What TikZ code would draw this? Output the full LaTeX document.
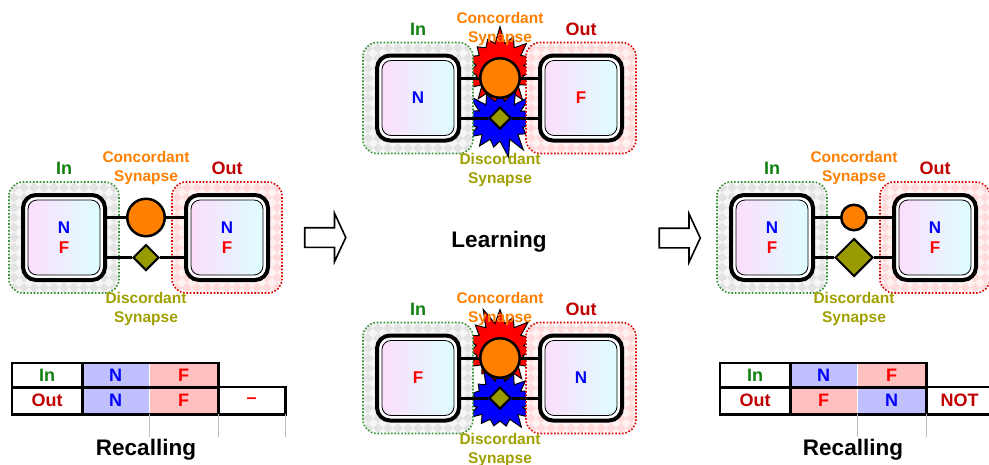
\documentclass[tikz,border=0pt]{standalone}
\usepackage{fontspec}
\setmainfont{Liberation Sans}
\usetikzlibrary{shapes.geometric,shapes.arrows,shapes.symbols}

\definecolor{ingreen}{RGB}{16,128,16}
\definecolor{outred}{RGB}{192,0,0}
\definecolor{nblue}{RGB}{0,0,255}
\definecolor{fred}{RGB}{255,0,0}
\definecolor{conorange}{RGB}{255,128,0}
\definecolor{disolive}{RGB}{160,160,0}
\definecolor{diamondfill}{RGB}{153,153,0}
\definecolor{ncell}{RGB}{192,192,255}
\definecolor{fcell}{RGB}{255,192,192}
\definecolor{somaleft}{RGB}{252,222,252}
\definecolor{somaright}{RGB}{222,254,254}

\tikzset{
  neuron/.style={draw, line width=4pt, rounded corners=13pt, fill=white,
    minimum width=82pt, minimum height=85pt, inner sep=0pt},
  soma/.style={draw, line width=0.8pt, rounded corners=9pt, minimum width=72pt,
    minimum height=75pt, inner sep=0pt, left color=somaleft, right color=somaright,
    align=center, font=\fontsize{17}{19.5}\selectfont\bfseries},
  axon/.style={line width=3pt},
  concord/.style={circle, draw, line width=2.5pt, fill=conorange, inner sep=0pt,
    minimum size=#1pt},
  discord/.style={diamond, aspect=1, draw, line width=2pt, fill=diamondfill,
    inner sep=0pt, minimum size=#1pt},
  tag/.style={anchor=base, inner sep=0pt, font=\fontsize{18}{18}\selectfont\bfseries},
  syn/.style={align=center, inner sep=0pt, font=\fontsize{15.5}{19}\selectfont\bfseries},
  flash/.style={starburst, draw, line width=1pt, starburst points=15,
    starburst point height=18pt, inner sep=0pt},
  blockarrow/.style={single arrow, draw, line width=1.6pt, fill=white,
    inner sep=9pt, minimum height=41pt, single arrow head extend=14.5pt,
    single arrow tip angle=130},
  tcell/.style={anchor=north west, minimum width=#1pt, inner sep=0pt,
    font=\fontsize{18}{18}\selectfont\bfseries},
  frame/.style={line width=2.5pt},
  tick/.style={gray!50, line width=0.8pt},
  title/.style={anchor=base, inner sep=0pt, font=\fontsize{22.5}{22.5}\selectfont\bfseries}
}

\newcommand{\zone}[4]{%
  \fill[#2, rounded corners=14pt] ({#1-55},-55.5) rectangle ({#1+55},55.5);
  \begin{scope}
    \clip[rounded corners=14pt] ({#1-55},-55.5) rectangle ({#1+55},55.5);
    \foreach \a in {-6,...,6}
      \foreach \b in {-6,...,6}
        \fill[#3] ({#1+10*\a},10*\b) +(-5,0) -- +(0,-5) -- +(5,0) -- +(0,5) -- cycle;
  \end{scope}
  \draw[#4, dash pattern=on 1.6pt off 1.8pt, line width=1.6pt, rounded corners=14pt]
    ({#1-55},-55.5) rectangle ({#1+55},55.5);}

\newcommand{\synpanel}[7]{%
  \begin{scope}[shift={(#2,#3)}]
    \zone{0}{gray!7}{gray!22}{ingreen!85}
    \zone{163}{red!5}{red!14}{red!85!black}
    \node[neuron] (#1in) at (0,0) {};
    \node[soma] (#1ins) at (0,0) {#4};
    \node[neuron] (#1out) at (163,0) {};
    \node[soma] (#1outs) at (163,0) {#5};
    \node[concord=#6] (#1con) at (82,-20) {};
    \node[discord=#7] (#1dis) at (82,20) {};
    \draw[axon] ([yshift=20pt]#1in.east) -- (#1con) -- ([yshift=20pt]#1out.west);
    \draw[axon] ([yshift=-20pt]#1in.east) -- (#1dis) -- ([yshift=-20pt]#1out.west);
    \node[tag, text=ingreen] (#1intag) at (0,-63) {In};
    \node[tag, text=outred] (#1outtag) at (163,-63) {Out};
    \node[syn, text=conorange] (#1contag) at (82,-69.5) {Concordant\\Synapse};
    \node[syn, text=disolive] (#1distag) at (82,71.5) {Discordant\\Synapse};
  \end{scope}}

\newcommand{\NF}{\textcolor{nblue}{N}\\\textcolor{fred}{F}}

\begin{document}
\begin{tikzpicture}[x=1pt, y=-1pt]
\useasboundingbox (0,0) rectangle (989,464);

\synpanel{pre}{64}{237.5}{\NF}{\NF}{37.5}{26}

\node[flash, fill=red, minimum width=84pt, minimum height=86pt, random starburst=7] (burstA) at (500,68) {};
\node[flash, fill=blue, minimum width=84pt, minimum height=76pt, random starburst=3] (burstB) at (500,121) {};
\synpanel{up}{418}{98}{\textcolor{nblue}{N}}{\textcolor{fred}{F}}{39.5}{22}

\node[flash, fill=red, minimum width=84pt, minimum height=86pt, random starburst=11] (burstC) at (500,348) {};
\node[flash, fill=blue, minimum width=84pt, minimum height=76pt, random starburst=5] (burstD) at (500,401) {};
\synpanel{low}{418}{378}{\textcolor{fred}{F}}{\textcolor{nblue}{N}}{39.5}{22}

\synpanel{post}{772}{237.5}{\NF}{\NF}{25.5}{38}

\node[blockarrow] (stepA) at (323,237.5) {};
\node[blockarrow] (stepB) at (677.5,238) {};
\node[title] (learn) at (499,247) {Learning};

\node[tcell=70, minimum height=24pt, text=ingreen] (inL) at (12,363) {In};
\node[tcell=67, minimum height=24pt, fill=ncell, text=nblue] (nL1) at (82,363) {N};
\node[tcell=69, minimum height=24pt, fill=fcell, text=fred] (fL1) at (149,363) {F};
\node[tcell=70, minimum height=27pt, text=outred] (outL) at (12,387) {Out};
\node[tcell=67, minimum height=27pt, fill=ncell, text=nblue] (nL2) at (82,387) {N};
\node[tcell=69, minimum height=27pt, fill=fcell, text=fred] (fL2) at (149,387) {F};
\node[tcell=67, minimum height=27pt, text=fred] (nilL) at (218,387) {--};
\draw[white, line width=1.5pt] (nL1.north east) -- (nL2.south east);
\draw[frame] (inL.north west) rectangle (fL1.south east);
\draw[frame] (outL.north west) rectangle (nilL.south east);
\draw[frame] (inL.north east) -- (outL.south east);
\draw[frame] (fL2.north east) -- (fL2.south east);
\draw[tick] (nL2.south east) -- ++(0,23);
\draw[tick] (fL2.south east) -- ++(0,23);
\draw[tick] (nilL.south east) -- ++(0,23);
\node[title] (recallL) at (146,455) {Recalling};

\node[tcell=70, minimum height=24pt, text=ingreen] (inR) at (720,363) {In};
\node[tcell=67, minimum height=24pt, fill=ncell, text=nblue] (nR1) at (790,363) {N};
\node[tcell=69, minimum height=24pt, fill=fcell, text=fred] (fR1) at (857,363) {F};
\node[tcell=70, minimum height=27pt, text=outred] (outR) at (720,387) {Out};
\node[tcell=67, minimum height=27pt, fill=fcell, text=fred] (fR2) at (790,387) {F};
\node[tcell=69, minimum height=27pt, fill=ncell, text=nblue] (nR2) at (857,387) {N};
\node[tcell=67, minimum height=27pt, text=outred] (notR) at (926,387) {NOT};
\draw[white, line width=1.5pt] (nR1.north east) -- (fR2.south east);
\draw[frame] (inR.north west) rectangle (fR1.south east);
\draw[frame] (outR.north west) rectangle (notR.south east);
\draw[frame] (inR.north east) -- (outR.south east);
\draw[frame] (nR2.north east) -- (nR2.south east);
\draw[tick] (fR2.south east) -- ++(0,23);
\draw[tick] (nR2.south east) -- ++(0,23);
\node[title] (recallR) at (853,455) {Recalling};

\end{tikzpicture}
\end{document}
